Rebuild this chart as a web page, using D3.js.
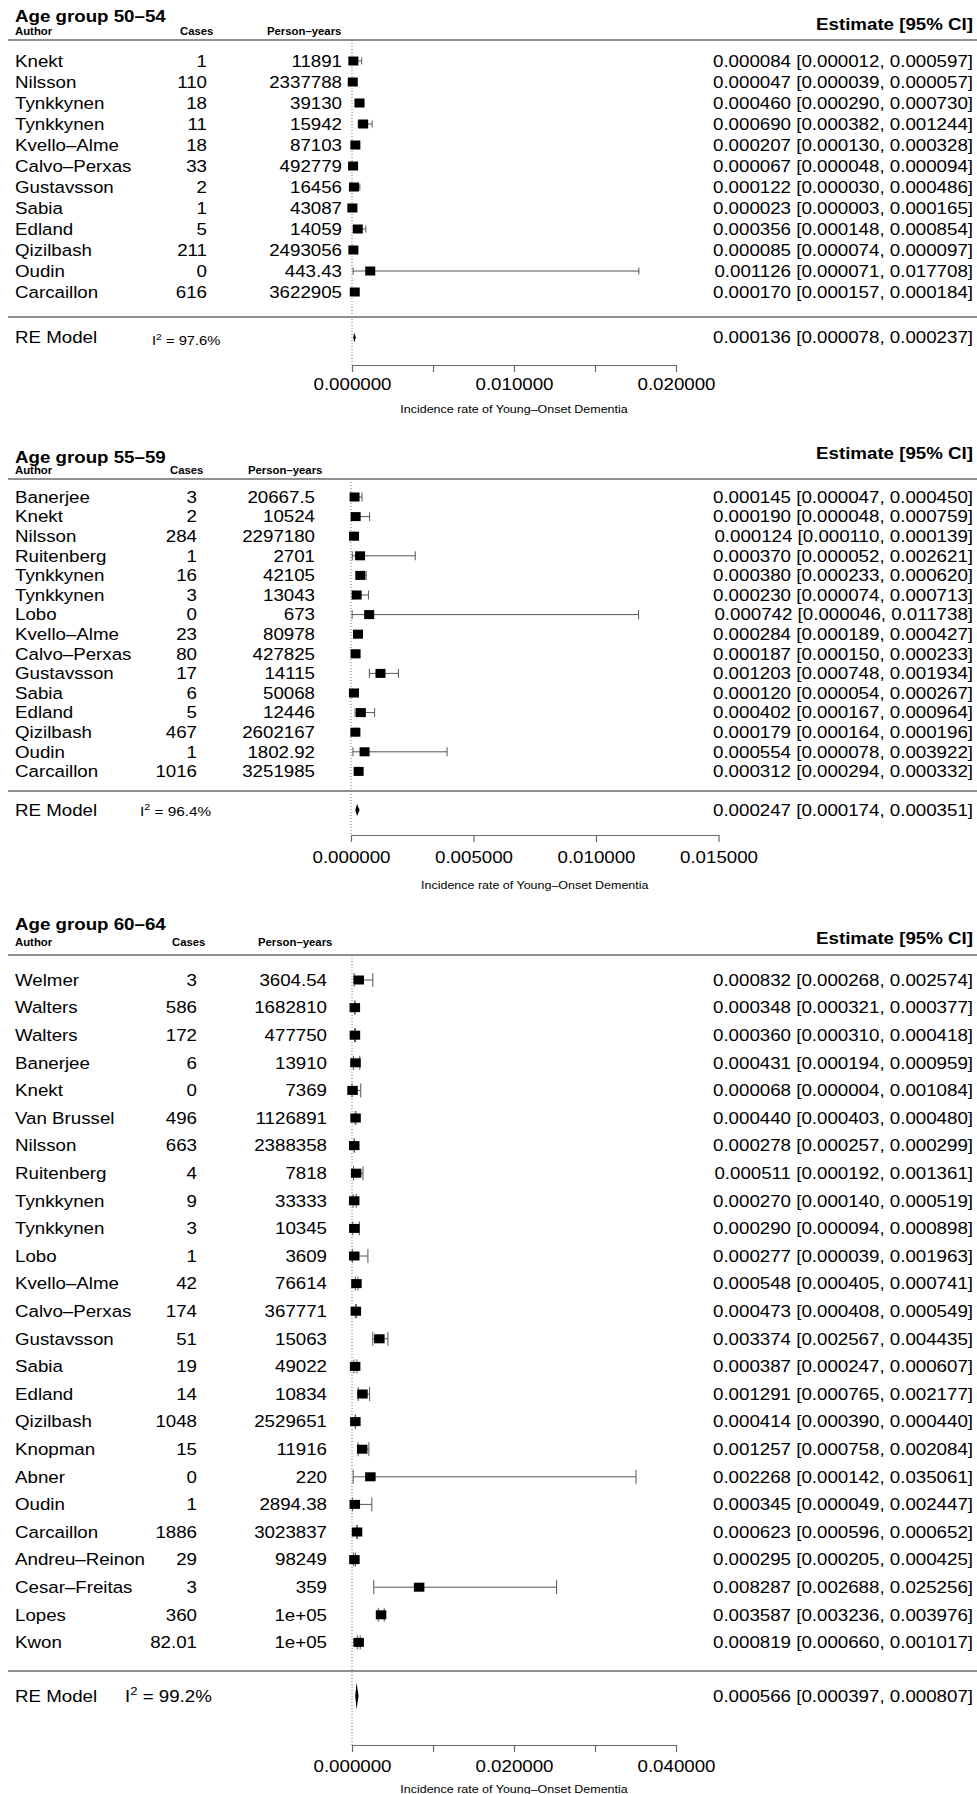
<!DOCTYPE html>
<html><head><meta charset="utf-8">
<script src="https://cdn.jsdelivr.net/npm/d3@7"></script>
<style>
body{margin:0;background:#fff}
svg{display:block}
text{font-family:"Liberation Sans",Arial,Helvetica,sans-serif;fill:#000}
</style>
</head><body>
<svg id="chart" width="977" height="1794"></svg>
<script>
// ---------------- DATA ----------------
// Age group 50–54
const p1Authors = ["Knekt","Nilsson","Tynkkynen","Tynkkynen","Kvello–Alme","Calvo–Perxas","Gustavsson","Sabia","Edland","Qizilbash","Oudin","Carcaillon"];
const p1Cases = ["1","110","18","11","18","33","2","1","5","211","0","616"];
const p1PY = ["11891","2337788","39130","15942","87103","492779","16456","43087","14059","2493056","443.43","3622905"];
const p1Est = [0.000084,0.000047,0.000460,0.000690,0.000207,0.000067,0.000122,0.000023,0.000356,0.000085,0.001126,0.000170];
const p1Lo  = [0.000012,0.000039,0.000290,0.000382,0.000130,0.000048,0.000030,0.000003,0.000148,0.000074,0.000071,0.000157];
const p1Hi  = [0.000597,0.000057,0.000730,0.001244,0.000328,0.000094,0.000486,0.000165,0.000854,0.000097,0.017708,0.000184];
const p1RE = [0.000136,0.000078,0.000237];
const p1I2 = "97.6%";
const p1Ticks = [0,0.005,0.01,0.015,0.02];
const p1TickLabels = [0,0.01,0.02];

// Age group 55–59
const p2Authors = ["Banerjee","Knekt","Nilsson","Ruitenberg","Tynkkynen","Tynkkynen","Lobo","Kvello–Alme","Calvo–Perxas","Gustavsson","Sabia","Edland","Qizilbash","Oudin","Carcaillon"];
const p2Cases = ["3","2","284","1","16","3","0","23","80","17","6","5","467","1","1016"];
const p2PY = ["20667.5","10524","2297180","2701","42105","13043","673","80978","427825","14115","50068","12446","2602167","1802.92","3251985"];
const p2Est = [0.000145,0.000190,0.000124,0.000370,0.000380,0.000230,0.000742,0.000284,0.000187,0.001203,0.000120,0.000402,0.000179,0.000554,0.000312];
const p2Lo  = [0.000047,0.000048,0.000110,0.000052,0.000233,0.000074,0.000046,0.000189,0.000150,0.000748,0.000054,0.000167,0.000164,0.000078,0.000294];
const p2Hi  = [0.000450,0.000759,0.000139,0.002621,0.000620,0.000713,0.011738,0.000427,0.000233,0.001934,0.000267,0.000964,0.000196,0.003922,0.000332];
const p2RE = [0.000247,0.000174,0.000351];
const p2I2 = "96.4%";
const p2Ticks = [0,0.005,0.01,0.015];
const p2TickLabels = [0,0.005,0.01,0.015];

// Age group 60–64
const p3Authors = ["Welmer","Walters","Walters","Banerjee","Knekt","Van Brussel","Nilsson","Ruitenberg","Tynkkynen","Tynkkynen","Lobo","Kvello–Alme","Calvo–Perxas","Gustavsson","Sabia","Edland","Qizilbash","Knopman","Abner","Oudin","Carcaillon","Andreu–Reinon","Cesar–Freitas","Lopes","Kwon"];
const p3Cases = ["3","586","172","6","0","496","663","4","9","3","1","42","174","51","19","14","1048","15","0","1","1886","29","3","360","82.01"];
const p3PY = ["3604.54","1682810","477750","13910","7369","1126891","2388358","7818","33333","10345","3609","76614","367771","15063","49022","10834","2529651","11916","220","2894.38","3023837","98249","359","1e+05","1e+05"];
const p3Est = [0.000832,0.000348,0.000360,0.000431,0.000068,0.000440,0.000278,0.000511,0.000270,0.000290,0.000277,0.000548,0.000473,0.003374,0.000387,0.001291,0.000414,0.001257,0.002268,0.000345,0.000623,0.000295,0.008287,0.003587,0.000819];
const p3Lo  = [0.000268,0.000321,0.000310,0.000194,0.000004,0.000403,0.000257,0.000192,0.000140,0.000094,0.000039,0.000405,0.000408,0.002567,0.000247,0.000765,0.000390,0.000758,0.000142,0.000049,0.000596,0.000205,0.002688,0.003236,0.000660];
const p3Hi  = [0.002574,0.000377,0.000418,0.000959,0.001084,0.000480,0.000299,0.001361,0.000519,0.000898,0.001963,0.000741,0.000549,0.004435,0.000607,0.002177,0.000440,0.002084,0.035061,0.002447,0.000652,0.000425,0.025256,0.003976,0.001017];
const p3RE = [0.000566,0.000397,0.000807];
const p3I2 = "99.2%";
const p3Ticks = [0,0.01,0.02,0.03,0.04];
const p3TickLabels = [0,0.02,0.04];

const axisTitle = "Incidence rate of Young–Onset Dementia";

// ---------------- DRAWING ----------------
const SX = 1.135;
const FS = 16.5;
const fmt = d3.format(".6f");
const svg = d3.select("#chart");

function txt(g, x, y, s, o = {}) {
  return g.append("text")
    .attr("transform", `translate(${x},${y}) scale(${SX},1)`)
    .attr("text-anchor", o.anchor || "start")
    .attr("font-size", o.size || FS)
    .attr("font-weight", o.weight || "normal")
    .text(s);
}

const panels = [
  { title: "Age group 50–54", authors: p1Authors, cases: p1Cases, py: p1PY, est: p1Est, lo: p1Lo, hi: p1Hi, re: p1RE, i2: p1I2,
    ticks: p1Ticks, tickLabels: p1TickLabels, domain: [0, 0.02], range: [352, 676],
    titleY: 22, estHdrY: 30, hdrY: 35, hdrLineY: 40, row0: 61, step: 21, sepY: 317, reY: 337.5,
    axisY: 365, tickLabY: 390, axTitleY: 413, casesX: 207, pyX: 342, casesHdrX: 180, pyHdrX: 267,
    sqW: 10, sqH: 9, cap: 7, diaH: 10, i2X: 152, i2Size: 13, i2dy: 1.5 },
  { title: "Age group 55–59", authors: p2Authors, cases: p2Cases, py: p2PY, est: p2Est, lo: p2Lo, hi: p2Hi, re: p2RE, i2: p2I2,
    ticks: p2Ticks, tickLabels: p2TickLabels, domain: [0, 0.015], range: [351, 718.5],
    titleY: 463, estHdrY: 459, hdrY: 474, hdrLineY: 479, row0: 497, step: 19.6, sepY: 791, reY: 810,
    axisY: 835, tickLabY: 863, axTitleY: 889, casesX: 197, pyX: 315, casesHdrX: 170, pyHdrX: 248,
    sqW: 10, sqH: 9, cap: 9, diaH: 12, i2X: 140, i2Size: 13.5, i2dy: 0 },
  { title: "Age group 60–64", authors: p3Authors, cases: p3Cases, py: p3PY, est: p3Est, lo: p3Lo, hi: p3Hi, re: p3RE, i2: p3I2,
    ticks: p3Ticks, tickLabels: p3TickLabels, domain: [0, 0.04], range: [352, 676],
    titleY: 930, estHdrY: 944, hdrY: 946, hdrLineY: 955, row0: 980, step: 27.6, sepY: 1671, reY: 1696,
    axisY: 1745, tickLabY: 1772, axTitleY: 1793, casesX: 197, pyX: 327, casesHdrX: 172, pyHdrX: 258,
    sqW: 10.5, sqH: 9, cap: 14, diaH: 27, i2X: 125, i2Size: 16.5, i2dy: 0 }
];

const lineCol = "#6b6b6b";
const whiskCol = "#555";

panels.forEach(p => {
  const g = svg.append("g");
  const x = d3.scaleLinear().domain(p.domain).range(p.range);
  const rowY = i => p.row0 + i * p.step;
  const bo = 5.8; // baseline offset from row centre

  // headers
  txt(g, 15, p.titleY, p.title, { weight: "bold", size: FS });
  txt(g, 973, p.estHdrY, "Estimate [95% CI]", { weight: "bold", anchor: "end" });
  txt(g, 15, p.hdrY, "Author", { weight: "bold", size: 10 });
  txt(g, p.casesHdrX, p.hdrY, "Cases", { weight: "bold", size: 10 });
  txt(g, p.pyHdrX, p.hdrY, "Person–years", { weight: "bold", size: 10 });

  g.append("line").attr("x1", 8).attr("x2", 977).attr("y1", p.hdrLineY).attr("y2", p.hdrLineY)
    .attr("stroke", lineCol).attr("stroke-width", 1.3);
  g.append("line").attr("x1", 8).attr("x2", 977).attr("y1", p.sepY).attr("y2", p.sepY)
    .attr("stroke", lineCol).attr("stroke-width", 1.3);

  // reference line
  g.append("line").attr("x1", x(0)).attr("x2", x(0)).attr("y1", p.hdrLineY).attr("y2", p.axisY)
    .attr("stroke", "#777").attr("stroke-width", 1).attr("stroke-dasharray", "1,2");

  // rows
  p.authors.forEach((a, i) => {
    const y = rowY(i);
    txt(g, 15, y + bo, a);
    txt(g, p.casesX, y + bo, p.cases[i], { anchor: "end" });
    txt(g, p.pyX, y + bo, p.py[i], { anchor: "end" });
    txt(g, 973, y + bo, `${fmt(p.est[i])} [${fmt(p.lo[i])}, ${fmt(p.hi[i])}]`, { anchor: "end" });

    const x0 = x(p.lo[i]), x1 = x(p.hi[i]);
    g.append("line").attr("x1", x0).attr("x2", x1).attr("y1", y).attr("y2", y)
      .attr("stroke", whiskCol).attr("stroke-width", 1);
    [x0, x1].forEach(xx => g.append("line").attr("x1", xx).attr("x2", xx)
      .attr("y1", y - p.cap / 2).attr("y2", y + p.cap / 2).attr("stroke", whiskCol).attr("stroke-width", 1));
    g.append("rect").attr("x", x(p.est[i]) - p.sqW / 2).attr("y", y - p.sqH / 2)
      .attr("width", p.sqW).attr("height", p.sqH).attr("fill", "#000");
  });

  // RE model
  txt(g, 15, p.reY + bo, "RE Model");
  const it = g.append("text")
    .attr("transform", `translate(${p.i2X},${p.reY + bo + p.i2dy}) scale(${SX},1)`)
    .attr("font-size", p.i2Size);
  it.append("tspan").text("I");
  it.append("tspan").attr("dy", -p.i2Size * 0.4).attr("font-size", p.i2Size * 0.7).text("2");
  it.append("tspan").attr("dy", p.i2Size * 0.4).text(" = " + p.i2);
  txt(g, 973, p.reY + bo, `${fmt(p.re[0])} [${fmt(p.re[1])}, ${fmt(p.re[2])}]`, { anchor: "end" });
  const ry = p.reY;
  g.append("polygon")
    .attr("points", [[x(p.re[1]), ry], [x(p.re[0]), ry - p.diaH / 2], [x(p.re[2]), ry], [x(p.re[0]), ry + p.diaH / 2]].map(d => d.join(",")).join(" "))
    .attr("fill", "#000");

  // axis
  const ax = d3.axisBottom(x).tickValues(p.ticks).tickSize(7).tickSizeOuter(0)
    .tickFormat(d => p.tickLabels.some(t => Math.abs(t - d) < 1e-12) ? fmt(d) : "");
  const ag = g.append("g").attr("transform", `translate(0,${p.axisY})`).call(ax);
  ag.select(".domain").attr("stroke", lineCol).attr("stroke-width", 1.2);
  ag.selectAll(".tick line").attr("stroke", lineCol).attr("stroke-width", 1.2);
  ag.selectAll(".tick text")
    .attr("y", p.tickLabY - p.axisY).attr("dy", null)
    .attr("font-size", FS).attr("font-family", "Liberation Sans, Arial, sans-serif")
    .attr("fill", "#000").attr("transform", `scale(${SX},1)`);
  txt(g, (p.range[0] + p.range[1]) / 2, p.axTitleY, axisTitle, { anchor: "middle", size: 11 });
});
</script>
</body></html>
